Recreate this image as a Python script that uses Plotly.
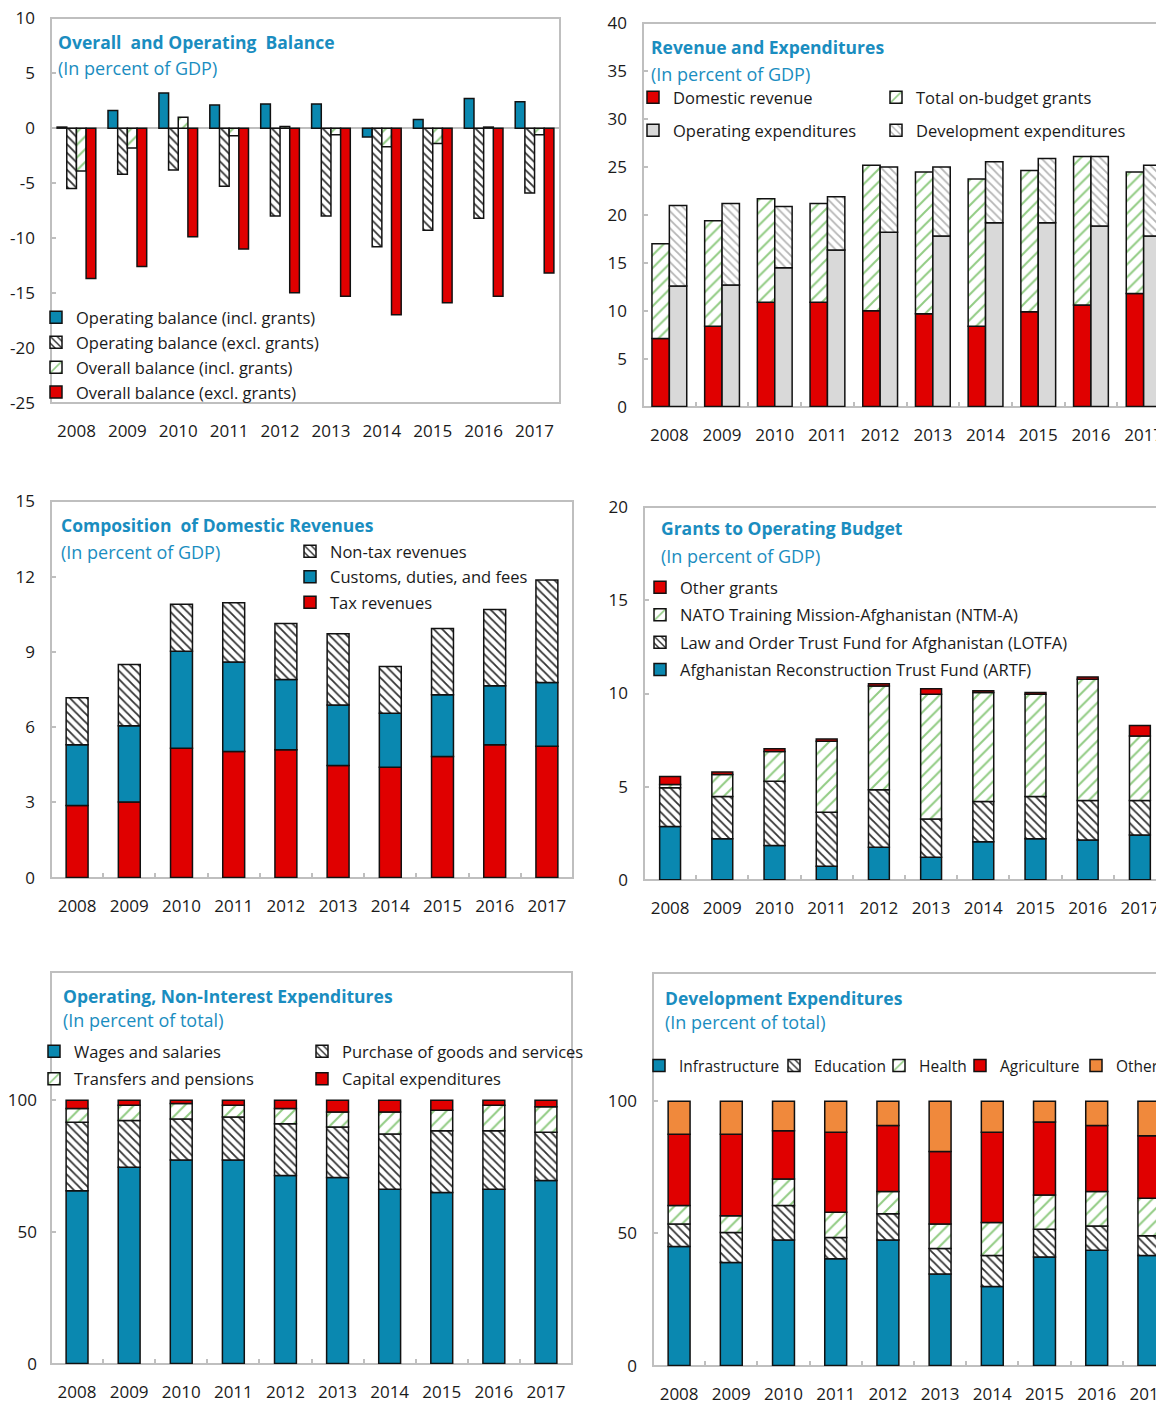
import numpy as np
import plotly.graph_objects as go

# page geometry (the html body adds an 8px offset)
PAGE_W, PAGE_H = 1164, 1404
OFF = 8
W, H = PAGE_W - OFF, PAGE_H - OFF
years = [str(y) for y in range(2008, 2018)]

# ---------------- Data ----------------
# Panel 1: Overall and Operating Balance (% of GDP)
op_bal_incl = [0.1, 1.6, 3.2, 2.1, 2.2, 2.2, -0.8, 0.8, 2.7, 2.4]
op_bal_excl = [-5.5, -4.2, -3.8, -5.3, -8.0, -8.0, -10.8, -9.3, -8.2, -5.9]
ov_bal_incl = [-3.9, -1.8, 1.0, -0.7, 0.15, -0.6, -1.7, -1.4, 0.1, -0.6]
ov_bal_excl = [-13.7, -12.6, -9.9, -11.0, -15.0, -15.3, -17.0, -15.9, -15.3, -13.2]

# Panel 2: Revenue and Expenditures (% of GDP)
dom_revenue = [7.1, 8.4, 10.9, 10.9, 10.0, 9.7, 8.4, 9.9, 10.6, 11.8]
grants_total = [9.9, 11.0, 10.8, 10.3, 15.2, 14.8, 15.35, 14.75, 15.5, 12.7]
op_exp = [12.6, 12.7, 14.5, 16.35, 18.2, 17.8, 19.2, 19.2, 18.85, 17.8]
dev_exp = [8.4, 8.5, 6.4, 5.55, 6.8, 7.2, 6.35, 6.7, 7.25, 7.4]

# Panel 3: Composition of Domestic Revenues (% of GDP)
tax_rev = [2.88, 3.01, 5.16, 5.03, 5.1, 4.47, 4.4, 4.83, 5.3, 5.24]
customs = [2.42, 3.04, 3.86, 3.57, 2.8, 2.41, 2.15, 2.46, 2.35, 2.54]
nontax = [1.87, 2.45, 1.88, 2.36, 2.23, 2.84, 1.87, 2.64, 3.04, 4.09]

# Panel 4: Grants to Operating Budget (% of GDP)
artf = [2.85, 2.19, 1.83, 0.72, 1.74, 1.2, 2.04, 2.19, 2.13, 2.4]
lotfa = [2.08, 2.28, 3.46, 2.9, 3.09, 2.06, 2.16, 2.28, 2.12, 1.85]
ntma = [0.18, 1.18, 1.6, 3.81, 5.57, 6.7, 5.85, 5.49, 6.51, 3.46]
other_grants = [0.43, 0.13, 0.14, 0.12, 0.13, 0.3, 0.1, 0.1, 0.13, 0.57]

# Panel 5: Operating, Non-Interest Expenditures (% of total)
wages = [65.6, 74.5, 77.3, 77.3, 71.4, 70.6, 66.2, 64.9, 66.2, 69.5]
purchases = [26.0, 17.8, 15.5, 16.3, 19.6, 19.2, 20.9, 23.5, 22.2, 18.3]
transfers = [5.2, 5.8, 5.9, 4.5, 5.8, 5.7, 8.4, 7.8, 9.7, 9.7]
capital = [3.2, 1.9, 1.3, 1.9, 3.2, 4.5, 4.5, 3.8, 1.9, 2.5]

# Panel 6: Development Expenditures (% of total)
infra = [45.0, 39.0, 47.5, 40.4, 47.5, 34.6, 29.9, 41.1, 43.6, 41.6]
education = [8.5, 11.3, 13.0, 8.0, 9.9, 9.7, 11.7, 10.5, 9.2, 7.5]
health = [7.0, 6.4, 10.1, 9.6, 8.4, 9.2, 12.5, 12.9, 13.0, 14.2]
agriculture = [27.0, 30.8, 18.2, 30.2, 25.0, 27.5, 34.1, 27.6, 25.0, 23.6]
other_dev = [12.5, 12.5, 11.2, 11.8, 9.2, 19.0, 11.8, 7.9, 9.2, 13.1]

# ---------------- Styles ----------------
TEAL = "#0A88B0"
RED = "#E00000"
LGRAY = "#D9D9D9"
ORANGE = "#F0893C"
GREEN = "#92CC84"
TITLE = "#1A8DC0"
BOX = "#BFBFBF"
FONT = "Open Sans"
LINE = dict(color="#111111", width=1.5)


def solid(c):
    return dict(color=c, line=LINE)


def hatch(fg, shape, size=6, sol=0.3):
    return dict(color="white", line=LINE,
                pattern=dict(shape=shape, fgcolor=fg, bgcolor="white",
                             size=size, solidity=sol, fillmode="replace"))


M_TEAL = solid(TEAL)
M_RED = solid(RED)
M_GRAY = solid(LGRAY)
M_ORANGE = solid(ORANGE)
M_BLACKH = hatch("#333333", "\\", 6, 0.3)
M_GREENH = hatch(GREEN, "/", 9, 0.22)
M_GRAYH = hatch("#B5B5B5", "\\", 6, 0.3)


def px(x):
    return (x - OFF) / W


def py(y):
    return 1 - (y - OFF) / H


fig = go.Figure()


def add_bar(ax, y, marker, name, legend, offset, width, base=None, rank=1):
    fig.add_trace(go.Bar(
        x=years, y=y, base=base, marker=marker, name=name,
        xaxis="x" + ("" if ax == 1 else str(ax)),
        yaxis="y" + ("" if ax == 1 else str(ax)),
        offset=offset, width=width, legend=legend,
        legendgroup=name, legendrank=rank, showlegend=True,
        hoverinfo="x+y+name"))


def cum(*arrs):
    return list(np.sum(np.array(arrs), axis=0))


# Panel 1 (grouped)
w1 = 0.19
add_bar(1, op_bal_incl, M_TEAL, "Operating balance (incl. grants)", "legend", -2 * w1, w1, rank=1)
add_bar(1, op_bal_excl, M_BLACKH, "Operating balance (excl. grants)", "legend", -w1, w1, rank=2)
add_bar(1, ov_bal_incl, M_GREENH, "Overall balance (incl. grants)", "legend", 0, w1, rank=3)
add_bar(1, ov_bal_excl, M_RED, "Overall balance (excl. grants)", "legend", w1, w1, rank=4)

# Panel 2 (two stacks per year)
w2 = 0.33
add_bar(2, dom_revenue, M_RED, "Domestic revenue", "legend2", -w2, w2, rank=1)
add_bar(2, grants_total, M_GREENH, "Total on-budget grants", "legend3", -w2, w2,
        base=dom_revenue, rank=1)
add_bar(2, op_exp, M_GRAY, "Operating expenditures", "legend2", 0, w2, rank=2)
add_bar(2, dev_exp, M_GRAYH, "Development expenditures", "legend3", 0, w2,
        base=op_exp, rank=2)

# Panel 3
w3 = 0.42
add_bar(3, tax_rev, M_RED, "Tax revenues", "legend4", -w3 / 2, w3, rank=3)
add_bar(3, customs, M_TEAL, "Customs, duties, and fees", "legend4", -w3 / 2, w3,
        base=tax_rev, rank=2)
add_bar(3, nontax, M_BLACKH, "Non-tax revenues", "legend4", -w3 / 2, w3,
        base=cum(tax_rev, customs), rank=1)

# Panel 4
w4 = 0.40
add_bar(4, artf, M_TEAL, "Afghanistan Reconstruction Trust Fund (ARTF)", "legend5",
        -w4 / 2, w4, rank=4)
add_bar(4, lotfa, M_BLACKH, "Law and Order Trust Fund for Afghanistan (LOTFA)", "legend5",
        -w4 / 2, w4, base=artf, rank=3)
add_bar(4, ntma, M_GREENH, "NATO Training Mission-Afghanistan (NTM-A)", "legend5",
        -w4 / 2, w4, base=cum(artf, lotfa), rank=2)
add_bar(4, other_grants, M_RED, "Other grants", "legend5", -w4 / 2, w4,
        base=cum(artf, lotfa, ntma), rank=1)

# Panel 5
w5 = 0.42
add_bar(5, wages, M_TEAL, "Wages and salaries", "legend6", -w5 / 2, w5, rank=1)
add_bar(5, purchases, M_BLACKH, "Purchase of goods and services", "legend7", -w5 / 2, w5,
        base=wages, rank=1)
add_bar(5, transfers, M_GREENH, "Transfers and pensions", "legend6", -w5 / 2, w5,
        base=cum(wages, purchases), rank=2)
add_bar(5, capital, M_RED, "Capital expenditures", "legend7", -w5 / 2, w5,
        base=cum(wages, purchases, transfers), rank=2)

# Panel 6
w6 = 0.42
add_bar(6, infra, M_TEAL, "Infrastructure", "legend8", -w6 / 2, w6)
add_bar(6, education, M_BLACKH, "Education", "legend9", -w6 / 2, w6, base=infra)
add_bar(6, health, M_GREENH, "Health", "legend10", -w6 / 2, w6,
        base=cum(infra, education))
add_bar(6, agriculture, M_RED, "Agriculture", "legend11", -w6 / 2, w6,
        base=cum(infra, education, health))
add_bar(6, other_dev, M_ORANGE, "Other", "legend12", -w6 / 2, w6,
        base=cum(infra, education, health, agriculture))

# ---------------- Axes ----------------
panels = [
    # id, x0, x1, ytop, ybot, yrange, dtick, xmax, y-label standoff (page pixels)
    (1, 51, 560, 18, 403, [-25, 10], 5, 9.5, 15),
    (2, 643, 1164, 23, 407, [0, 40], 5, -0.5 + 521 / 52.7, 15),
    (3, 51, 573, 501, 878, [0, 15], 3, 9.5, 15),
    (4, 644, 1164, 507, 880, [0, 20], 5, -0.5 + 520 / 52.2, 15),
    (5, 51, 572, 972, 1364, [0, 392 / 2.64], 50, 9.5, 13),
    (6, 653, 1164, 973, 1366, [0, 393 / 2.65], 50, -0.5 + 511 / 52.2, 15),
]

tickfont = dict(family=FONT, size=17, color="#1a1a1a")
layout = {}
shapes = []
EPS = 1e-3
for pid, x0, x1, yt, yb, yr, dt, xmax, ystand in panels:
    sfx = "" if pid == 1 else str(pid)
    span = (yr[1] - yr[0]) * EPS
    layout["xaxis" + sfx] = dict(
        domain=[px(x0), min(1.0, px(x1))], anchor="y" + sfx, type="category",
        range=[-0.5, xmax], showgrid=False, zeroline=False, showline=False,
        ticks="" if pid == 1 else "inside", tickson="boundaries", ticklen=5,
        tickcolor=BOX, tickwidth=1.5, tickfont=tickfont, ticklabelstandoff=16,
        ticklabeloverflow="allow", automargin=False, fixedrange=True)
    tv = list(np.arange(yr[0], (100 if pid >= 5 else yr[1]) + 0.001, dt))
    layout["yaxis" + sfx] = dict(
        domain=[py(yb), py(yt)], anchor="x" + sfx,
        range=[yr[0] - span, yr[1] + span],
        showgrid=False, showline=False,
        zeroline=(pid == 1), zerolinecolor=BOX, zerolinewidth=2,
        tickmode="array", tickvals=tv, ticktext=[f"{v:g}" for v in tv],
        ticks="inside", ticklen=5, tickcolor=BOX, tickwidth=1.5,
        tickfont=tickfont, ticklabelstandoff=ystand, ticklabeloverflow="allow",
        automargin=False, fixedrange=True)
    shapes.append(dict(type="rect", xref="paper", yref="paper",
                       x0=px(x0), x1=px(x1) if x1 < 1160 else 1.02,
                       y0=py(yb), y1=py(yt),
                       line=dict(color=BOX, width=2), layer="below"))

# ---------------- Titles ----------------
titles = [
    (58, 42, 68, "Overall  and Operating  Balance", "(In percent of GDP)"),
    (651, 47, 74, "Revenue and Expenditures", "(In percent of GDP)"),
    (61, 525, 552, "Composition  of Domestic Revenues", "(In percent of GDP)"),
    (661, 528, 556, "Grants to Operating Budget", "(In percent of GDP)"),
    (63, 996, 1020, "Operating, Non-Interest Expenditures", "(In percent of total)"),
    (665, 998, 1022, "Development Expenditures", "(In percent of total)"),
]
annotations = []
for x, yt, ys, t, s in titles:
    annotations.append(dict(xref="paper", yref="paper", x=px(x), y=py(yt),
                            xanchor="left", yanchor="middle", showarrow=False,
                            xshift=-2, text="<b>" + t + "</b>",
                            font=dict(family=FONT, size=17.5, color=TITLE)))
    annotations.append(dict(xref="paper", yref="paper", x=px(x), y=py(ys),
                            xanchor="left", yanchor="middle", showarrow=False,
                            xshift=-2, text=s,
                            font=dict(family=FONT, size=18, color=TITLE)))

# ---------------- Legends ----------------
LF = dict(family=FONT, size=16.5, color="#1a1a1a")
LF6 = dict(family=FONT, size=15.5, color="#1a1a1a")
TX = 40   # text offset from legend left
TY = 18   # first item center offset from legend top


def legend(text_x, first_y, gap, font=LF):
    return dict(x=px(text_x - TX), y=py(first_y - TY), xanchor="left", yanchor="top",
                bgcolor="rgba(0,0,0,0)", font=font, orientation="v",
                traceorder="grouped", tracegroupgap=gap, itemclick=False,
                itemdoubleclick=False)


layout["legend"] = legend(76, 318, 0.5)
layout["legend2"] = legend(673, 98, 8.5)
layout["legend3"] = legend(916, 98, 8.5)
layout["legend4"] = legend(330, 552, 1)
layout["legend5"] = legend(680, 588, 3)
layout["legend6"] = legend(74, 1052, 3)
layout["legend7"] = legend(342, 1052, 3)
for i, xt in zip(range(8, 12), [679, 814, 919, 1000]):
    layout["legend" + str(i)] = legend(xt, 1067, 0, LF6)
leg12 = legend(1118, 1067, 0, LF6)
leg12.update(x=1.0, xanchor="right")
layout["legend12"] = leg12

fig.update_layout(
    width=W, height=H, margin=dict(l=0, r=0, t=0, b=0, autoexpand=False),
    paper_bgcolor="white", plot_bgcolor="white",
    barmode="overlay", showlegend=True,
    font=dict(family=FONT, size=15, color="#1a1a1a"),
    shapes=shapes, annotations=annotations, **layout)

fig.write_html("out.html")
